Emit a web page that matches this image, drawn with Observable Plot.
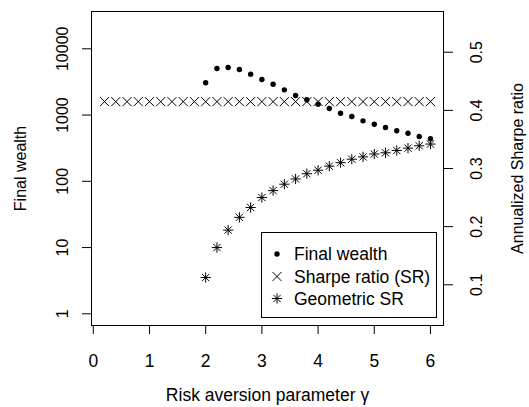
<!DOCTYPE html>
<html>
<head>
<meta charset="utf-8">
<script src="https://cdn.jsdelivr.net/npm/d3@7"></script>
<script src="https://cdn.jsdelivr.net/npm/@observablehq/plot@0.6"></script>
<style>
  body { margin: 0; background: #fff; }
  #chart { position: relative; width: 529px; height: 407px; background: #fff; font-family: "Liberation Sans", Arial, sans-serif; }
  #chart > svg { position: absolute; left: 0; top: 0; }
</style>
</head>
<body>
<div id="chart"></div>
<script>
// ---- data ----
const gammaWealth = [2.0, 2.2, 2.4, 2.6, 2.8, 3.0, 3.2, 3.4, 3.6, 3.8, 4.0, 4.2, 4.4, 4.6, 4.8, 5.0, 5.2, 5.4, 5.6, 5.8, 6.0];
const finalWealth = [3070, 5040, 5220, 4870, 4140, 3440, 2920, 2400, 1970, 1700, 1460, 1256, 1067, 951, 818, 728, 649, 578, 532, 474, 438];

const gammaSR = [0.2, 0.4, 0.6, 0.8, 1.0, 1.2, 1.4, 1.6, 1.8, 2.0, 2.2, 2.4, 2.6, 2.8, 3.0, 3.2, 3.4, 3.6, 3.8, 4.0, 4.2, 4.4, 4.6, 4.8, 5.0, 5.2, 5.4, 5.6, 5.8, 6.0];
const sharpeRatio = [0.415, 0.415, 0.415, 0.415, 0.415, 0.415, 0.415, 0.415, 0.415, 0.415, 0.415, 0.415, 0.415, 0.415, 0.415, 0.415, 0.415, 0.415, 0.415, 0.415, 0.415, 0.415, 0.415, 0.415, 0.415, 0.415, 0.415, 0.415, 0.415, 0.415];

const gammaGeo = [2.0, 2.2, 2.4, 2.6, 2.8, 3.0, 3.2, 3.4, 3.6, 3.8, 4.0, 4.2, 4.4, 4.6, 4.8, 5.0, 5.2, 5.4, 5.6, 5.8, 6.0];
const geometricSR = [0.1125, 0.164, 0.194, 0.216, 0.233, 0.25, 0.262, 0.273, 0.282, 0.291, 0.297, 0.304, 0.310, 0.316, 0.320, 0.325, 0.327, 0.331, 0.335, 0.339, 0.342];

const xTicks = [0, 1, 2, 3, 4, 5, 6];
const wealthTicks = [1, 10, 100, 1000, 10000];
const srTicks = [0.1, 0.2, 0.3, 0.4, 0.5];

const xTitle = "Risk aversion parameter γ";
const leftTitle = "Final wealth";
const rightTitle = "Annualized Sharpe ratio";
const legendLabels = ["Final wealth", "Sharpe ratio (SR)", "Geometric SR"];

// ---- layout ----
const FONT = "Liberation Sans, Arial, sans-serif";
const FS = 16;     // vertical (rotated) text
const FSH = 17.5;  // horizontal text
const common = {
  width: 529, height: 407,
  marginLeft: 91, marginRight: 86, marginTop: 11, marginBottom: 82,
  style: { fontFamily: FONT, fontSize: FS + "px", background: "transparent", overflow: "visible" }
};
const xDomain = [-0.032, 6.232];

const wealthData = gammaWealth.map((g, i) => ({ g, v: finalWealth[i] }));
const srData = gammaSR.map((g, i) => ({ g, v: sharpeRatio[i] }));
const geoData = gammaGeo.map((g, i) => ({ g, v: geometricSR[i] }));

const p1 = Plot.plot({
  ...common,
  x: { domain: xDomain, axis: null },
  y: { type: "log", domain: [Math.pow(10, -0.1766), Math.pow(10, 4.563)], axis: null },
  marks: [
    Plot.frame({ stroke: "#000", strokeWidth: 1 }),
    Plot.axisX({ ticks: xTicks, tickSize: 9, tickPadding: 20, tickFormat: d => String(d), label: null, fontSize: FSH, stroke: "#000" }),
    Plot.axisY({ ticks: wealthTicks, tickSize: 9, tickFormat: () => "", label: null, stroke: "#000" }),
    Plot.text(wealthTicks, { y: d => d, frameAnchor: "left", dx: -29, rotate: -90, text: d => String(d), textAnchor: "middle", lineAnchor: "middle", fontSize: FS, fill: "#000" }),
    Plot.text([leftTitle], { frameAnchor: "left", dx: -71, rotate: -90, text: d => d, textAnchor: "middle", lineAnchor: "middle", fontSize: FS, fill: "#000" }),
    Plot.text([xTitle], { frameAnchor: "bottom", dy: 70, text: d => d, textAnchor: "middle", lineAnchor: "middle", fontSize: FSH, fill: "#000" }),
    Plot.dot(wealthData, { x: "g", y: "v", r: 2.7, fill: "#000", stroke: null })
  ]
});

const p2 = Plot.plot({
  ...common,
  x: { domain: xDomain, axis: null },
  y: { domain: [0.03, 0.57], axis: null },
  marks: [
    Plot.axisY({ anchor: "right", ticks: srTicks, tickSize: 9, tickFormat: () => "", label: null, stroke: "#000" }),
    Plot.text(srTicks, { y: d => d, frameAnchor: "right", dx: 33, rotate: -90, text: d => d.toFixed(1), textAnchor: "middle", lineAnchor: "middle", fontSize: FS, fill: "#000" }),
    Plot.text([rightTitle], { frameAnchor: "right", dx: 74, rotate: -90, text: d => d, textAnchor: "middle", lineAnchor: "middle", fontSize: FS, fill: "#000" }),
    Plot.dot(srData, { x: "g", y: "v", symbol: "times", r: 4.2, stroke: "#000", fill: "none", strokeWidth: 1 }),
    Plot.dot(geoData, { x: "g", y: "v", symbol: "plus", r: 3.4, stroke: "#000", fill: "none", strokeWidth: 1 }),
    Plot.dot(geoData, { x: "g", y: "v", symbol: "times", r: 3.4, stroke: "#000", fill: "none", strokeWidth: 1 })
  ]
});

const chart = document.getElementById("chart");
chart.appendChild(p1);
chart.appendChild(p2);

// ---- legend (inside the plot, drawn as an overlay) ----
const lg = d3.select(chart).append("svg")
  .attr("width", 176).attr("height", 87)
  .style("left", "261px").style("top", "232px")
  .style("font-family", FONT).style("font-size", FSH + "px");
lg.append("rect").attr("x", 0.5).attr("y", 0.5).attr("width", 175).attr("height", 85)
  .attr("fill", "#fff").attr("stroke", "#000");
const rowY = [22, 44.5, 66.5];
const symSpecs = [
  [{ type: d3.symbolCircle, size: Math.PI * 2.7 * 2.7, fill: "#000", stroke: "none" }],
  [{ type: d3.symbolTimes, size: Math.PI * 4.2 * 4.2, fill: "none", stroke: "#000" }],
  [{ type: d3.symbolPlus, size: Math.PI * 3.4 * 3.4, fill: "none", stroke: "#000" },
   { type: d3.symbolTimes, size: Math.PI * 3.4 * 3.4, fill: "none", stroke: "#000" }]
];
legendLabels.forEach((lab, i) => {
  symSpecs[i].forEach(s => {
    lg.append("path").attr("d", d3.symbol(s.type, s.size)())
      .attr("transform", `translate(16,${rowY[i]})`)
      .attr("fill", s.fill).attr("stroke", s.stroke).attr("stroke-width", 1);
  });
  lg.append("text").attr("x", 33).attr("y", rowY[i]).attr("dy", "0.35em")
    .attr("fill", "#000").text(lab);
});
</script>
</body>
</html>
